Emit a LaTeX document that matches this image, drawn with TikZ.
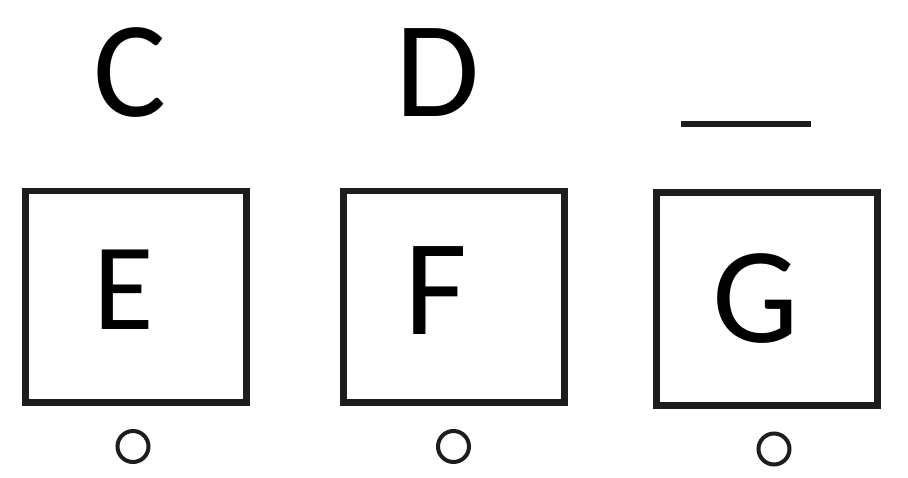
\documentclass[tikz,border=0pt]{standalone}
\usepackage{fontspec}
\setmainfont{Carlito}
\definecolor{ink}{RGB}{30,28,29}
\begin{document}
\begin{tikzpicture}[x=1pt,y=-1pt,
  box/.style={draw=ink,line width=6.8pt,rectangle,inner sep=0pt},
  big/.style={anchor=base,inner sep=0pt,font=\fontsize{137}{137}\selectfont},
  mid/.style={anchor=base,inner sep=0pt,font=\fontsize{124}{124}\selectfont},
  dot/.style={draw=ink,line width=4pt,circle,inner sep=0pt,minimum size=31pt}]
\useasboundingbox[fill=white] (0,0) rectangle (908,478);
% top letters
\node[big] (c) at (130,116.5) {C};
\node[big] (d) at (438,117) {D};
\coordinate (blankL) at (681,123.7);
\coordinate (blankR) at (810.7,123.7);
\draw[ink,line width=6pt] (blankL) -- (blankR);
% boxes
\node[box,minimum width=221pt,minimum height=211.7pt] (boxE) at (136.3,296.85) {};
\node[box,minimum width=221pt,minimum height=211.7pt] (boxF) at (453.7,296.85) {};
\node[box,minimum width=221.3pt,minimum height=212.7pt] (boxG) at (767.15,299.15) {};
% letters in boxes
\node[mid] (e) at (124,330) {E};
\node[big] (f) at (435.5,335) {F};
\node[big] (g) at (756,343) {G};
% circles
\node[dot] (oE) at (133,446.5) {};
\node[dot] (oF) at (453.5,446.5) {};
\node[dot] (oG) at (774,449) {};
\end{tikzpicture}
\end{document}
